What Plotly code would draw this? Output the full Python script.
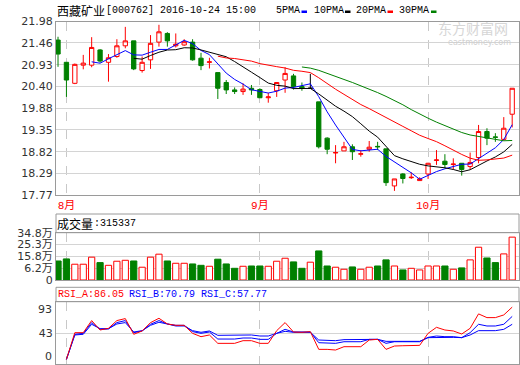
import pandas as pd
import plotly.graph_objects as go

W, H = 520, 365


def px(x):
    return x / W


def py(y):
    return 1 - y / H


# ---------------- data ----------------
trade_days = pd.bdate_range("2016-07-29", "2016-10-24")
closed_days = pd.to_datetime(["2016-09-15", "2016-09-16", "2016-10-03", "2016-10-04",
                              "2016-10-05", "2016-10-06", "2016-10-07"])
dates = [d.strftime("%Y-%m-%d") for d in trade_days if d not in closed_days]

open_p = [21.53, 20.99, 20.48, 20.92, 20.92, 21.29, 20.99, 21.13, 21.39, 21.51,
          20.79, 21.05, 21.48, 21.69, 21.39, 21.41, 21.48, 21.09, 20.99, 20.74,
          20.50, 20.32, 20.28, 20.36, 20.33, 20.13, 20.30, 20.56, 20.66, 20.40,
          20.36, 20.03, 19.15, 18.79, 18.84, 18.94, 18.76, 18.88, 18.95, 18.89,
          17.99, 18.28, 18.19, 18.12, 18.28, 18.61, 18.59, 18.51, 18.54, 18.46,
          18.68, 19.31, 19.18, 19.12, 19.73]
close_p = [21.19, 20.56, 20.94, 20.97, 21.35, 21.02, 21.10, 21.39, 21.51, 20.83,
           20.99, 21.45, 21.73, 21.51, 21.43, 21.49, 21.05, 20.91, 21.00, 20.36,
           20.32, 20.28, 20.34, 20.32, 20.13, 20.15, 20.50, 20.72, 20.40, 20.36,
           20.36, 18.94, 18.88, 18.80, 18.94, 18.82, 18.77, 18.93, 18.94, 18.07,
           18.16, 18.17, 18.20, 18.16, 18.54, 18.62, 18.51, 18.52, 18.39, 18.56,
           19.31, 19.15, 19.17, 19.39, 20.36]
high_p = [21.61, 20.99, 20.96, 21.17, 21.60, 21.31, 21.19, 21.55, 21.85, 21.51,
          21.13, 21.65, 21.90, 21.72, 21.69, 21.55, 21.55, 21.22, 21.10, 20.74,
          20.56, 20.38, 20.48, 20.44, 20.36, 20.25, 20.50, 20.87, 20.71, 20.50,
          20.71, 20.03, 19.17, 18.98, 19.06, 19.00, 18.86, 19.08, 19.06, 18.89,
          18.16, 18.30, 18.32, 18.20, 18.55, 18.86, 18.76, 18.66, 18.54, 18.80,
          19.47, 19.39, 19.27, 19.66, 20.36]
low_p = [20.88, 20.15, 20.46, 20.82, 20.87, 20.98, 20.52, 21.10, 21.33, 20.80,
         20.74, 20.83, 21.37, 21.37, 21.35, 21.39, 21.03, 20.80, 20.84, 20.10,
         20.22, 20.22, 20.20, 20.20, 20.12, 20.01, 20.15, 20.25, 20.33, 20.30,
         20.36, 18.90, 18.76, 18.54, 18.84, 18.62, 18.70, 18.82, 18.86, 17.99,
         17.87, 18.05, 18.16, 18.12, 18.16, 18.50, 18.42, 18.39, 18.24, 18.39,
         18.54, 18.98, 19.06, 19.09, 19.41]
volume = [140000, 155000, 116000, 116000, 168000, 128000, 108000, 138000, 145000, 140000,
          94000, 168000, 190000, 140000, 123000, 123000, 118000, 108000, 101000, 153000,
          118000, 86000, 101000, 103000, 103000, 101000, 138000, 160000, 133000, 86000,
          131000, 214000, 103000, 94000, 79000, 96000, 79000, 94000, 103000, 148000,
          103000, 74000, 86000, 74000, 103000, 103000, 103000, 79000, 89000, 148000,
          241000, 162000, 128000, 192000, 315337]
rsi_a = [None, 0, 44.0, 44.0, 63.9, 48.4, 51.2, 63.9, 67.2, 41.3,
         46.8, 60.5, 67.7, 58.3, 56.1, 56.1, 42.9, 37.4, 40.2, 26.4,
         26.4, 26.4, 30.8, 30.8, 26.4, 26.4, 47.3, 60.6, 45.1, 44.6,
         45.7, 16.5, 16.5, 15.4, 20.9, 20.9, 20.9, 31.9, 33.0, 16.5,
         22.0, 22.5, 22.5, 23.1, 42.9, 52.8, 48.4, 46.8, 41.8, 51.2,
         74.9, 68.8, 68.8, 73.2, 86.05]
rsi_b = [None, 0, 41.3, 42.9, 60.6, 49.5, 50.1, 60.6, 63.9, 44.0,
         46.8, 57.8, 63.9, 58.3, 56.1, 56.1, 45.7, 42.9, 45.1, 33.5,
         33.5, 33.5, 35.2, 35.2, 33.0, 33.0, 42.9, 49.5, 45.1, 44.6,
         45.1, 27.5, 27.5, 26.4, 29.1, 29.1, 29.1, 33.0, 33.0, 26.4,
         29.1, 29.1, 29.1, 29.1, 36.3, 38.5, 37.4, 37.4, 35.8, 44.0,
         57.8, 55.0, 55.0, 57.8, 70.79]
rsi_c = [None, 0, 40.2, 41.3, 57.8, 50.6, 50.6, 58.3, 60.6, 45.1,
         47.3, 56.1, 61.1, 58.3, 55.0, 55.0, 47.3, 44.6, 46.8, 39.6,
         39.6, 39.6, 40.2, 40.2, 38.5, 38.5, 42.9, 46.2, 44.6, 44.6,
         44.6, 31.9, 31.9, 30.8, 32.5, 32.5, 32.5, 33.0, 33.0, 29.7,
         29.7, 29.7, 29.7, 29.7, 35.8, 36.3, 36.3, 36.3, 35.8, 40.2,
         47.3, 46.8, 47.3, 49.5, 57.77]

price_ticks = [17.77, 18.29, 18.82, 19.35, 19.88, 20.40, 20.93, 21.46, 21.98]
vol_max = 348000
vol_grid = [0, 0.25 * vol_max, 0.5 * vol_max, 0.75 * vol_max, vol_max]
vol_tick_text = ["0", "6.2万", "15.8万", "25.3万", "34.8万"]
rsi_grid = [43]
rsi_edge_labels = ["93", "0"]
month_ticks = ["2016-08-01", "2016-09-01", "2016-10-10"]
month_text = ["8月", "9月", "10月"]
ma_periods = [5, 10, 20, 30]
ma_colors = ["#0000FF", "#000000", "#FF0000", "#008000"]

RED, GREEN, BLUE = "#FF0000", "#008000", "#0000FF"
FRAME, GRID = "#9a9a9a", "#d4d4d4"

# ---------------- figure ----------------
flat = [o == c for o, c in zip(open_p, close_p)]
up = [c >= o for o, c in zip(open_p, close_p)]


def mask(vals, keep):
    return [v if k else None for v, k in zip(vals, keep)]


not_flat = [not f for f in flat]
fig = go.Figure()
fig.add_trace(go.Candlestick(
    x=dates, open=mask(open_p, not_flat), high=mask(high_p, not_flat),
    low=mask(low_p, not_flat), close=mask(close_p, not_flat),
    increasing=dict(line=dict(color=RED, width=1), fillcolor="#FFFFFF"),
    decreasing=dict(line=dict(color=GREEN, width=1), fillcolor=GREEN),
    whiskerwidth=0, xaxis="x", yaxis="y", showlegend=False, hoverinfo="skip"))
fig.add_trace(go.Candlestick(
    x=dates, open=mask(open_p, flat), high=mask(high_p, flat),
    low=mask(low_p, flat), close=mask(close_p, flat),
    increasing=dict(line=dict(color="#000000", width=1), fillcolor="#000000"),
    decreasing=dict(line=dict(color="#000000", width=1), fillcolor="#000000"),
    whiskerwidth=0, xaxis="x", yaxis="y", showlegend=False, hoverinfo="skip"))

s_close = pd.Series(close_p)
for n, col in zip(ma_periods, ma_colors):
    ma = s_close.rolling(n).mean()
    fig.add_trace(go.Scatter(x=dates, y=[None if pd.isna(v) else v for v in ma],
                             mode="lines", line=dict(color=col, width=1),
                             xaxis="x", yaxis="y", showlegend=False, hoverinfo="skip"))

fig.add_trace(go.Bar(
    x=dates, y=volume, width=0.74,
    marker=dict(color=["#FFFFFF" if u else GREEN for u in up],
                line=dict(color=[RED if u else GREEN for u in up], width=1)),
    xaxis="x2", yaxis="y2", showlegend=False, hoverinfo="skip"))

for vals, col in [(rsi_c, BLUE), (rsi_b, BLUE), (rsi_a, RED)]:
    fig.add_trace(go.Scatter(x=dates, y=vals, mode="lines", line=dict(color=col, width=1),
                             xaxis="x3", yaxis="y3", showlegend=False, hoverinfo="skip"))

tick_font = dict(family="DejaVu Sans, Noto Sans CJK SC", size=11, color="#333333")
xcommon = dict(domain=[px(56), px(519)], range=[-0.24, 54.81], type="category",
               categoryorder="array", categoryarray=dates,
               tickvals=month_ticks, ticktext=month_text, ticks="",
               showgrid=True, gridcolor="#c8c8c8", griddash="dash", gridwidth=1,
               showline=True, linecolor=FRAME, linewidth=1, mirror=True,
               fixedrange=True, automargin=False)
ycommon = dict(ticks="", showline=True, linecolor=FRAME, linewidth=1, mirror=True,
               zeroline=False, fixedrange=True, automargin=False, tickfont=tick_font)

fig.update_layout(
    width=W, height=H, margin=dict(l=0, r=0, t=0, b=0), autosize=False,
    paper_bgcolor="white", plot_bgcolor="white", boxgap=0.27, bargap=0,
    showlegend=False,
    xaxis=dict(**xcommon, anchor="y", rangeslider=dict(visible=False),
               tickfont=dict(family="Liberation Mono, Noto Sans CJK SC", size=11, color=RED)),
    yaxis=dict(**ycommon, domain=[py(195), py(21.5)], range=[17.77, 21.98],
               tickvals=price_ticks, ticktext=[f"{v:.2f}" for v in price_ticks],
               showgrid=True, gridcolor=GRID),
    xaxis2=dict(**xcommon, anchor="y2", showticklabels=False),
    yaxis2=dict(**ycommon, domain=[py(280), py(232.7)], range=[0, vol_max],
                tickvals=vol_grid, ticktext=vol_tick_text, showgrid=True, gridcolor=GRID,
                ticklabeloverflow="allow"),
    xaxis3=dict(**xcommon, anchor="y3", showticklabels=False),
    yaxis3=dict(**ycommon, domain=[py(364), py(301.7)], range=[-7.6, 95],
                tickvals=rsi_grid, ticktext=[str(v) for v in rsi_grid],
                showgrid=True, gridcolor=GRID),
)

shapes = [
    dict(type="rect", xref="paper", yref="paper", x0=px(56), x1=px(519), y0=py(232.7), y1=py(214),
         line=dict(color=FRAME, width=1)),
    dict(type="rect", xref="paper", yref="paper", x0=px(56), x1=px(519), y0=py(301.7), y1=py(287.3),
         line=dict(color=FRAME, width=1)),
]
# legend swatches
for (x0, x1), col in zip([(301.5, 307), (345, 350.5), (387.5, 393), (431, 436.5)], ma_colors):
    shapes.append(dict(type="rect", xref="paper", yref="paper", x0=px(x0), x1=px(x1),
                       y0=py(13), y1=py(10.5), fillcolor=col, line=dict(width=0)))
fig.update_layout(shapes=shapes)

mono = "Liberation Mono, DejaVu Sans Mono"
cjk = "Noto Sans CJK SC"


def ann(x, y, text, family, size, color="#000000", anchor="left"):
    return dict(x=px(x), y=py(y), xref="paper", yref="paper", text=text, showarrow=False,
                xanchor=anchor, yanchor="middle", font=dict(family=family, size=size, color=color),
                borderpad=0)


annotations = [
    ann(437, 28, "东方财富网", cjk, 14, "#d6d6d6"),
    ann(447, 42.5, "eastmoney.com", "DejaVu Sans", 8, "#d0d0d0"),
    ann(56, 10, "西藏矿业", cjk, 12),
    ann(105, 10, "[000762] 2016-10-24 15:00", mono, 10),
    ann(275, 10, "5PMA", mono, 10),
    ann(312.5, 10, "10PMA", mono, 10),
    ann(355, 10, "20PMA", mono, 10),
    ann(398, 10, "30PMA", mono, 10),
    ann(56, 223.5, "成交量", cjk, 12),
    ann(93, 223.5, ":315337", mono, 10),
    ann(56.5, 294.5, "RSI_A:86.05", mono, 10, RED),
    ann(127.5, 294.5, "RSI_B:70.79", mono, 10, BLUE),
    ann(199.5, 294.5, "RSI_C:57.77", mono, 10, BLUE),
    ann(53, 309, rsi_edge_labels[0], "DejaVu Sans", 11, "#333333", "right"),
    ann(53, 356, rsi_edge_labels[1], "DejaVu Sans", 11, "#333333", "right"),
]
fig.update_layout(annotations=annotations)

fig.write_html("out.html", config={"displayModeBar": False, "staticPlot": True},
               post_script="document.body.style.margin='0';document.body.style.padding='0';"
                           "document.documentElement.style.overflow='hidden';")
